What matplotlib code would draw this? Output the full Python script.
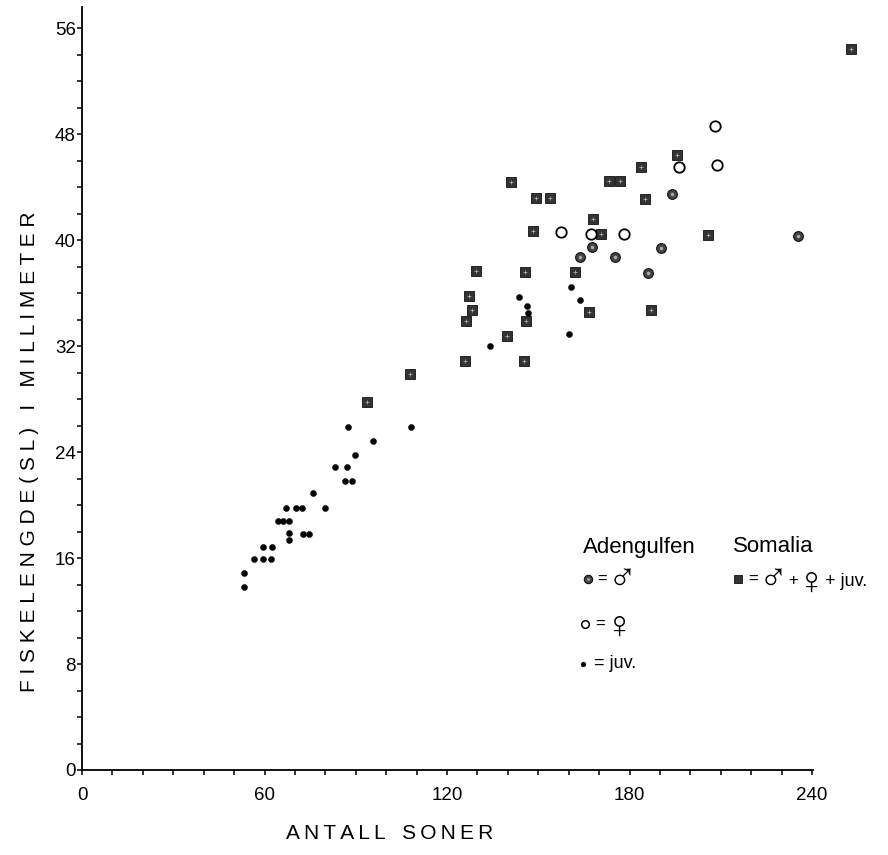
import matplotlib
matplotlib.use("Agg")
import matplotlib.pyplot as plt
from matplotlib.ticker import MultipleLocator

plt.rcParams['font.family'] = ['Liberation Sans', 'DejaVu Sans']

# Somalia (hann + hunn + juv.)
som_x = [252.9, 195.5, 183.9, 173.3, 177.0, 140.9, 149.1, 153.8, 185.1, 167.9,
         148.2, 170.7, 205.7, 129.4, 145.6, 161.9, 127.2, 128.3, 126.3, 145.8,
         166.6, 186.9, 139.8, 125.9, 145.2, 107.9, 93.7]
som_y = [54.4, 46.4, 45.5, 44.5, 44.5, 44.4, 43.2, 43.2, 43.1, 41.6,
         40.7, 40.5, 40.4, 37.7, 37.6, 37.6, 35.8, 34.7, 33.9, 33.9,
         34.6, 34.7, 32.8, 30.9, 30.9, 29.9, 27.8]

# Adengulfen hunner
fem_x = [208.1, 196.1, 208.6, 157.6, 167.2, 178.3]
fem_y = [48.6, 45.5, 45.7, 40.6, 40.5, 40.5]

# Adengulfen hanner
male_x = [193.9, 167.5, 190.4, 163.6, 175.3, 185.9, 235.4]
male_y = [43.5, 39.5, 39.4, 38.7, 38.7, 37.5, 40.3]

# Adengulfen juv.
juv_x = [160.9, 163.6, 143.8, 146.3, 146.6, 134.1, 160.0, 87.4, 95.5, 89.8,
         83.3, 87.2, 86.5, 88.6, 76.1, 67.1, 70.4, 72.2, 79.8, 64.3,
         66.2, 68.2, 68.0, 68.0, 72.6, 74.5, 59.4, 62.4, 56.6, 59.4,
         62.2, 53.3, 53.1, 108.2]
juv_y = [36.5, 35.5, 35.7, 35.0, 34.5, 32.0, 32.9, 25.9, 24.8, 23.8,
         22.9, 22.9, 21.8, 21.8, 20.9, 19.8, 19.8, 19.8, 19.8, 18.8,
         18.8, 18.8, 17.9, 17.4, 17.8, 17.8, 16.8, 16.8, 15.9, 15.9,
         15.9, 14.9, 13.8, 25.9]

x_ticks = [0, 60, 120, 180, 240]
y_ticks = [0, 8, 16, 24, 32, 40, 48, 56]

fig = plt.figure(figsize=(8.88, 8.55), dpi=100)
ax = fig.add_axes([82/888, 1-770/855, 731/888, 763/855])

sq = dict(marker='s', ls='none', ms=6.8, mfc='#333333', mec='#111111', mew=0.6, clip_on=False)
sq_in = dict(marker='+', ls='none', ms=3, mec='#aaaaaa', mew=0.6, clip_on=False)
ml = dict(marker='o', ls='none', ms=7, mfc='#444444', mec='#111111', mew=0.8, clip_on=False)
ml_in = dict(marker='o', ls='none', ms=2.5, mfc='#aaaaaa', mec='none', clip_on=False)
fm = dict(marker='o', ls='none', ms=7.5, mfc='white', mec='black', mew=1.3, clip_on=False)
jv = dict(marker='o', ls='none', ms=4.4, mfc='black', mec='black', mew=0.3, clip_on=False)

ax.plot(som_x, som_y, **sq)
ax.plot(som_x, som_y, **sq_in)
ax.plot(male_x, male_y, **ml)
ax.plot(male_x, male_y, **ml_in)
ax.plot(fem_x, fem_y, **fm)
ax.plot(juv_x, juv_y, **jv)

ax.set_xlim(0, 240.3)
ax.set_ylim(0, 57.6)
ax.set_xticks(x_ticks)
ax.set_yticks(y_ticks)
ax.xaxis.set_minor_locator(MultipleLocator(10))
ax.yaxis.set_minor_locator(MultipleLocator(2))
for s in ['top', 'right']:
    ax.spines[s].set_visible(False)
for s in ['left', 'bottom']:
    ax.spines[s].set_linewidth(1.3)
ax.tick_params(which='both', direction='out', length=3.5, width=1.1, color='black')
ax.tick_params(axis='x', which='major', labelsize=13.5, pad=9)
ax.tick_params(axis='y', which='major', labelsize=13.5, pad=1)

fig.text(30/888, 1-452/855, ' '.join("FISKELENGDE(SL) I MILLIMETER"),
         rotation=90, ha='center', va='center', fontsize=15)
fig.text(390/888, 1-833/855, '\u2009'.join("ANTALL") + '   ' + '\u2009'.join("SONER"),
         ha='center', va='center', fontsize=15)

# legend
tf = ax.transAxes
def fx(px):
    return (px - 82) / 731
def fy(py):
    return (770 - py) / 763

ax.text(fx(583), fy(547), "Adengulfen", transform=tf, fontsize=16, va='center')
ax.text(fx(733), fy(547), "Somalia", transform=tf, fontsize=16, va='center')

ax.plot([fx(588)], [fy(579)], transform=tf, **dict(ml, ms=6))
ax.plot([fx(588)], [fy(579)], transform=tf, **dict(ml_in, ms=2))
ax.text(fx(597), fy(579), "=", transform=tf, fontsize=12, va='center')
ax.text(fx(608), fy(580), "\u2642", transform=tf, fontsize=28, va='center')

ax.plot([fx(585)], [fy(624)], transform=tf, **dict(fm, ms=5.5, mew=1.1))
ax.text(fx(595), fy(624), "=", transform=tf, fontsize=12, va='center')
ax.text(fx(605), fy(628), "\u2640", transform=tf, fontsize=28, va='center')

ax.plot([fx(583)], [fy(664)], transform=tf, **dict(jv, ms=3.5))
ax.text(fx(594), fy(664), "= juv.", transform=tf, fontsize=13, va='center')

ax.plot([fx(738)], [fy(579)], transform=tf, **dict(sq, ms=5.5))
ax.text(fx(748), fy(579), "=", transform=tf, fontsize=12, va='center')
ax.text(fx(759), fy(580), "\u2642", transform=tf, fontsize=28, va='center')
ax.text(fx(788), fy(581), "+", transform=tf, fontsize=12, va='center')
ax.text(fx(797), fy(584), "\u2640", transform=tf, fontsize=28, va='center')
ax.text(fx(825), fy(581), "+ juv.", transform=tf, fontsize=13, va='center')

fig.savefig("out.png", dpi=100, facecolor='white')
